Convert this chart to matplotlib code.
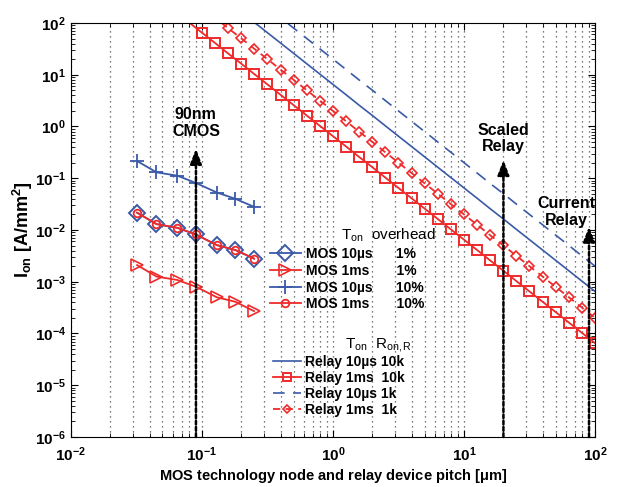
#!/usr/bin/env python3
"""Ion vs MOS technology node / relay device pitch."""

import matplotlib
matplotlib.use('Agg')
import matplotlib.pyplot as plt

plt.rcParams['font.family'] = ['Liberation Sans', 'DejaVu Sans']
plt.rcParams['mathtext.fontset'] = 'custom'
plt.rcParams['mathtext.rm'] = 'Liberation Sans'
plt.rcParams['mathtext.bf'] = 'Liberation Sans:bold'
plt.rcParams['mathtext.it'] = 'Liberation Sans:italic'

BLUE = '#3a5aa8'
RED = '#ee2a2a'

# MOS technology nodes [um]
mos_node = [0.032, 0.045, 0.065, 0.09, 0.13, 0.18, 0.25]
mos_10us_1pct = [0.0216, 0.013, 0.011, 0.0082, 0.0051, 0.0041, 0.0028]
mos_1ms_1pct = [0.0021, 0.00126, 0.00108, 0.0008, 0.0005, 0.00041, 0.00027]
mos_10us_10pct = [0.215, 0.13, 0.112, 0.081, 0.053, 0.04, 0.028]
mos_1ms_10pct = [0.0216, 0.013, 0.011, 0.0082, 0.0051, 0.0041, 0.0028]

# relay device pitch [um]
relay_pitch = [0.0794, 0.1, 0.126, 0.158, 0.2, 0.251, 0.316, 0.398, 0.501, 0.631,
               0.794, 1, 1.26, 1.58, 2.0, 2.51, 3.16, 3.98, 5.01, 6.31,
               7.94, 10, 12.6, 15.8, 20, 25.1, 31.6, 39.8, 50.1, 63.1, 79.4, 100]
relay_10us_10k = [1030, 650, 410, 259, 163, 103, 65, 41, 25.9, 16.3, 10.3, 6.5, 4.1,
                  2.59, 1.63, 1.03, 0.65, 0.41, 0.259, 0.163, 0.103, 0.065, 0.041,
                  0.0259, 0.0163, 0.0103, 6.5e-3, 4.1e-3, 2.59e-3, 1.63e-3, 1.03e-3, 6.5e-4]
relay_1ms_10k = [103, 65, 41, 25.9, 16.3, 10.3, 6.5, 4.1, 2.59, 1.63, 1.03, 0.65, 0.41,
                 0.259, 0.163, 0.103, 0.065, 0.041, 0.0259, 0.0163, 0.0103, 6.5e-3, 4.1e-3,
                 2.59e-3, 1.63e-3, 1.03e-3, 6.5e-4, 4.1e-4, 2.59e-4, 1.63e-4, 1.03e-4, 6.5e-5]
relay_10us_1k = [3170, 2000, 1260, 796, 502, 317, 200, 126, 79.6, 50.2, 31.7, 20, 12.6,
                 7.96, 5.02, 3.17, 2, 1.26, 0.796, 0.502, 0.317, 0.2, 0.126, 0.0796,
                 0.0502, 0.0317, 0.02, 0.0126, 7.96e-3, 5.02e-3, 3.17e-3, 2e-3]
relay_1ms_1k = [317, 200, 126, 79.6, 50.2, 31.7, 20, 12.6, 7.96, 5.02, 3.17, 2, 1.26,
                0.796, 0.502, 0.317, 0.2, 0.126, 0.0796, 0.0502, 0.0317, 0.02, 0.0126,
                7.96e-3, 5.02e-3, 3.17e-3, 2e-3, 1.26e-3, 7.96e-4, 5.02e-4, 3.17e-4, 2e-4]

# annotated arrows: (x, arrow tip, label x, label y, label)
arrows = [(0.09, 0.37, 0.09, 1.17, '90nm\nCMOS'),
          (20, 0.225, 20, 0.59, 'Scaled\nRelay'),
          (90, 0.0116, 60, 0.0223, 'Current\nRelay')]

fig = plt.figure(figsize=(6.22, 4.87), dpi=100)
ax = fig.add_axes([0.114, 0.1027, 0.8426, 0.8501])
ax.set_xscale('log')
ax.set_yscale('log')

# MOS
h1, = ax.plot(mos_node, mos_10us_1pct, '-', color=BLUE, lw=1.3, marker='D',
              ms=8, mfc='none', mew=1.4, label='MOS 10\u00b5s      1%')
h2, = ax.plot(mos_node, mos_1ms_1pct, '-', color=RED, lw=1.3, marker='>',
              ms=9, mfc='none', mew=1.2, label='MOS 1ms       1%')
h3, = ax.plot(mos_node, mos_10us_10pct, '-', color=BLUE, lw=1.3, marker='+',
              ms=10, mew=1.3, label='MOS 10\u00b5s      10%')
h4, = ax.plot(mos_node, mos_1ms_10pct, '-', color=RED, lw=1.3, marker='o',
              ms=5.5, mfc='none', mew=1.3, label='MOS 1ms       10%')

# relay
r1, = ax.plot(relay_pitch, relay_10us_10k, '-', color=BLUE, lw=1.2,
              label='Relay 10\u00b5s 10k')
r2, = ax.plot(relay_pitch, relay_1ms_10k, '-', color=RED, lw=1.3, marker='s',
              ms=7, mfc='none', mew=1.4, markevery=slice(1, None),
              label='Relay 1ms  10k')
r3, = ax.plot(relay_pitch, relay_10us_1k, color=BLUE, lw=1.2, ls=(0, (7, 5)),
              label='Relay 10\u00b5s 1k')
r4, = ax.plot(relay_pitch, relay_1ms_1k, color=RED, lw=1.3, ls=(0, (4, 3)),
              marker='D', ms=5, mfc='none', mew=1.2, markevery=slice(3, None),
              label='Relay 1ms  1k')

for x, tip, tx, ty, label in arrows:
    ax.annotate('', xy=(x, tip), xytext=(x, 1e-6),
                arrowprops=dict(arrowstyle='-|>,head_width=0.35,head_length=0.9',
                                lw=1.8, ls=(0, (1.5, 1)), color='k',
                                shrinkA=0, shrinkB=0))
    ax.text(tx, ty, label, ha='center', va='center', fontsize=11.5,
            fontweight='bold', linespacing=1.1)

ax.set_xlim(1e-2, 1e2)
ax.set_ylim(1e-6, 1e2)
ax.xaxis.grid(True, which='both', ls=(0, (1, 3)), color='0.3', lw=0.9)
ax.tick_params(which='both', direction='in', top=True, right=True)
ax.tick_params(which='major', length=5, width=0.8)
ax.tick_params(which='minor', length=3, width=0.6)
ax.tick_params(axis='x', which='major', pad=6)

xt = [1e-2, 1e-1, 1, 10, 100]
ax.set_xticks(xt)
ax.set_xticklabels([r'$\mathbf{10^{%d}}$' % e for e in range(-2, 3)], fontsize=11)
yt = [10.0 ** e for e in range(-6, 3)]
ax.set_yticks(yt)
ax.set_yticklabels([r'$\mathbf{10^{%d}}$' % e for e in range(-6, 3)], fontsize=11)

ax.set_xlabel(r'MOS technology node and relay device pitch [$\mathbf{\mu}$m]',
              fontsize=10.5, fontweight='bold', labelpad=2)
ax.set_ylabel(r'I$_{\mathbf{on}}$ [A/mm$^{\mathbf{2}}$]', fontsize=13,
              fontweight='bold', labelpad=0)

leg1 = ax.legend(handles=[h1, h2, h3, h4], loc='upper left',
                 bbox_to_anchor=(270 / 622, 1 - 247 / 487),
                 bbox_transform=fig.transFigure, frameon=False, numpoints=1,
                 borderpad=0, borderaxespad=0, handlelength=2.2,
                 handletextpad=0.4, labelspacing=0.2,
                 prop={'weight': 'bold', 'size': 10})
ax.add_artist(leg1)
ax.legend(handles=[r1, r2, r3, r4], loc='upper left',
          bbox_to_anchor=(273 / 622, 1 - 355 / 487),
          bbox_transform=fig.transFigure, frameon=False, numpoints=1,
          borderpad=0, borderaxespad=0, handlelength=2.0, markerscale=0.75,
          handletextpad=0.3, labelspacing=0.15,
          prop={'weight': 'bold', 'size': 10})

fig.text(341 / 622, 1 - 235 / 487, r'T$_{\mathrm{on}}$  overhead', fontsize=11,
         va='center', ha='left')
fig.text(345 / 622, 1 - 345 / 487, r'T$_{\mathrm{on}}$  R$_{\mathrm{on,R}}$',
         fontsize=11, va='center', ha='left')

fig.savefig('out.png', dpi=100)
